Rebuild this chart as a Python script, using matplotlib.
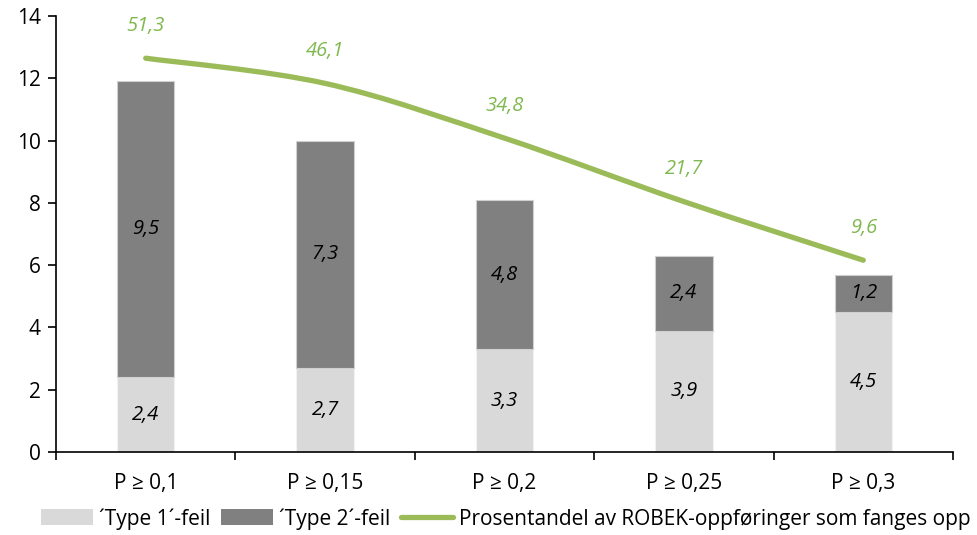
import matplotlib.pyplot as plt
import numpy as np
from matplotlib.path import Path
from matplotlib.patches import PathPatch
from matplotlib.lines import Line2D
from matplotlib.patches import Patch

plt.rcParams['font.family'] = ['Open Sans', 'DejaVu Sans']

# data
kategorier = ['P ≥ 0,1', 'P ≥ 0,15', 'P ≥ 0,2', 'P ≥ 0,25', 'P ≥ 0,3']
type1 = [2.4, 2.7, 3.3, 3.9, 4.5]
type2 = [9.5, 7.3, 4.8, 2.4, 1.2]
prosent = [51.3, 46.1, 34.8, 21.7, 9.6]

lys = '#d9d9d9'
mork = '#808080'
gronn = '#9bbb59'
gronn_tekst = '#80b850'

fig = plt.figure(figsize=(9.78, 5.35), dpi=100)
ax = fig.add_axes([0.0573, 0.155, 0.9171, 0.815])
x = np.arange(len(kategorier))

b1 = ax.bar(x, type1, width=0.32, color=lys, edgecolor='#f2f2f2', linewidth=0.8, zorder=2)
b2 = ax.bar(x, type2, width=0.32, bottom=type1, color=mork, edgecolor='#d0d0d0', linewidth=0.8, zorder=2)

for i in range(len(x)):
    ax.text(x[i], type1[i] / 2, f'{type1[i]:.1f}'.replace('.', ','),
            ha='center', va='center', style='italic', fontsize=14.5, color='black', zorder=3)
    ax.text(x[i], type1[i] + type2[i] / 2, f'{type2[i]:.1f}'.replace('.', ','),
            ha='center', va='center', style='italic', fontsize=14.5, color='black', zorder=3)

ax.set_xlim(-0.5, 4.5)
ax.set_ylim(0, 14)
ax.set_yticks(range(0, 15, 2))
ax.set_xticks(x)
ax.set_xticklabels(kategorier)
ax.set_xticks(np.arange(-0.5, 5, 1), minor=True)
ax.tick_params(axis='x', which='major', length=0, pad=15, labelsize=15)
ax.tick_params(axis='x', which='minor', length=6, width=1.2, direction='out')
ax.tick_params(axis='y', length=6, width=1.2, direction='out', labelsize=15, pad=5)
ax.spines['top'].set_visible(False)
ax.spines['right'].set_visible(False)
ax.spines['left'].set_linewidth(1.2)
ax.spines['bottom'].set_linewidth(1.2)

# sekundaer akse for linjen (skjult)
ax2 = ax.twinx()
ax2.set_ylim(-30, 60)
ax2.set_xlim(-0.5, 4.5)
ax2.axis('off')

# glattet linje (Bezier, som i Excel)
pts = np.column_stack([x, prosent]).astype(float)
verts = [pts[0]]
codes = [Path.MOVETO]
n = len(pts)
for i in range(n - 1):
    p0 = pts[i - 1] if i > 0 else pts[i]
    p1 = pts[i]
    p2 = pts[i + 1]
    p3 = pts[i + 2] if i + 2 < n else pts[i + 1]
    c1 = p1 + (p2 - p0) / 6
    c2 = p2 - (p3 - p1) / 6
    verts += [c1, c2, p2]
    codes += [Path.CURVE4] * 3
ax2.add_patch(PathPatch(Path(verts, codes), facecolor='none', edgecolor=gronn,
                        linewidth=3.8, capstyle='round', zorder=4))

for i in range(n):
    ax2.annotate(f'{prosent[i]:.1f}'.replace('.', ','), (x[i], prosent[i]),
                 xytext=(0, 16), textcoords='offset points', ha='center', va='bottom',
                 style='italic', fontsize=14.5, color=gronn_tekst)

handles = [Patch(facecolor=lys, edgecolor='none'),
           Patch(facecolor=mork, edgecolor='none'),
           Line2D([0], [0], color=gronn, linewidth=3.8, solid_capstyle='round')]
labels = ['´Type 1´-feil', '´Type 2´-feil', 'Prosentandel av ROBEK-oppføringer som fanges opp']
fig.legend(handles, labels, loc='lower center', bbox_to_anchor=(0.517, -0.025), ncol=3,
           frameon=False, fontsize=15, handlelength=2.5, handleheight=0.8,
           handletextpad=0.3, columnspacing=0.5)

fig.savefig('out.png', dpi=100)
